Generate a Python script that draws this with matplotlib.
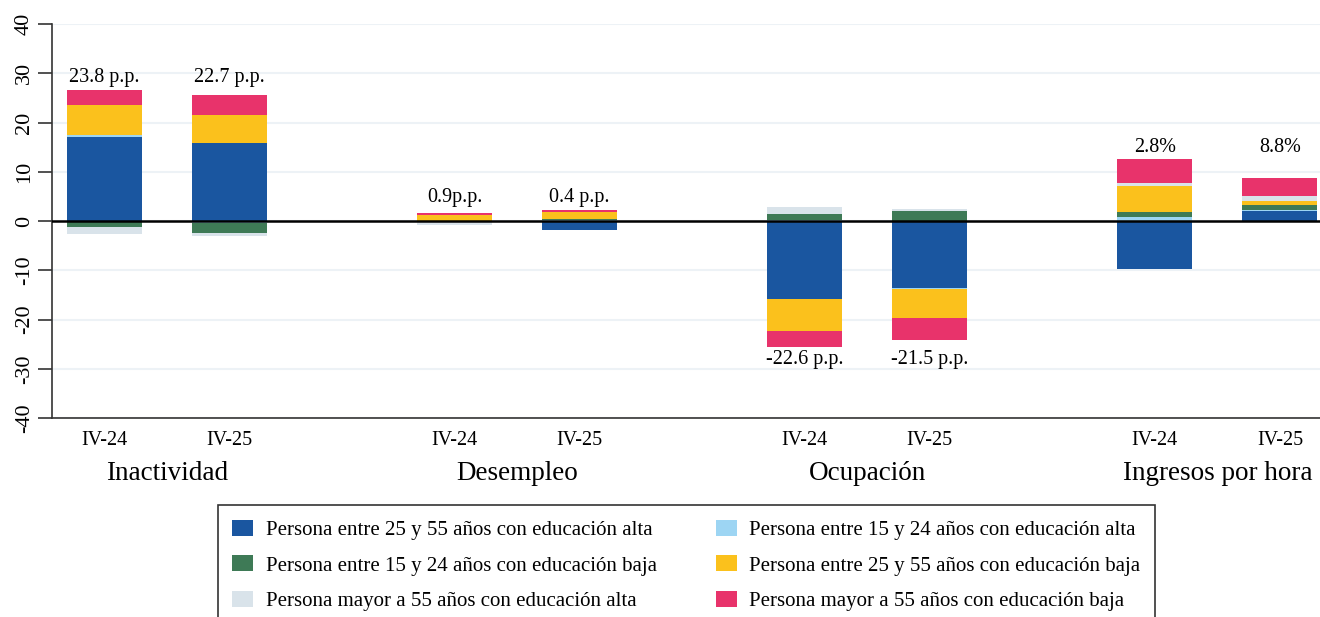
import numpy as np
import matplotlib.pyplot as plt

plt.rcParams['font.family'] = ['Liberation Serif', 'DejaVu Serif']
plt.rcParams['axes.unicode_minus'] = False

# categories: (group, period)
grupos = ['Inactividad', 'Desempleo', 'Ocupación', 'Ingresos por hora']
periodos = ['IV-24', 'IV-25']

series = [
    'Persona entre 25 y 55 años con educación alta',
    'Persona entre 15 y 24 años con educación alta',
    'Persona entre 15 y 24 años con educación baja',
    'Persona entre 25 y 55 años con educación baja',
    'Persona mayor a 55 años con educación alta',
    'Persona mayor a 55 años con educación baja',
]

# contributions per bar (8 bars: group x period)
alta_25_55 = [17.1, 15.8, 0.0, -1.9, -15.9, -13.5, -9.7, 2.0]
alta_15_24 = [0.3, -0.3, 0.0, 0.25, 0.2, -0.2, 0.85, 0.25]
baja_15_24 = [-1.2, -2.1, -0.2, 0.2, 1.2, 2.0, 1.0, 0.95]
baja_25_55 = [6.1, 5.7, 1.3, 1.4, -6.4, -6.0, 5.25, 0.8]
alta_55 = [-1.4, -0.6, -0.6, 0.0, 1.45, 0.4, 0.7, 1.1]
baja_55 = [3.2, 4.1, 0.4, 0.45, -3.2, -4.4, 4.7, 3.7]

totales = ['23.8 p.p.', '22.7 p.p.', '0.9p.p.', '0.4 p.p.',
           '-22.6 p.p.', '-21.5 p.p.', '2.8%', '8.8%']

colores = ['#1A56A0', '#9DD5F3', '#3E7A56', '#FBC11C', '#D9E3EA', '#E8336B']

datos = np.array([alta_25_55, alta_15_24, baja_15_24, baja_25_55, alta_55, baja_55])

x = np.array([0, 1, 2.8, 3.8, 5.6, 6.6, 8.4, 9.4])
ancho = 0.6

fig = plt.figure(figsize=(13.2, 6.17), dpi=100)
ax = fig.add_axes([0.0394, 0.3225, 0.9606, 0.6385])

pos_base = np.zeros(len(x))
neg_base = np.zeros(len(x))
handles = []
for i, fila in enumerate(datos):
    bottoms = np.where(fila >= 0, pos_base, neg_base)
    b = ax.bar(x, fila, ancho, bottom=bottoms, color=colores[i], label=series[i],
               zorder=3, linewidth=0)
    handles.append(b)
    pos_base = pos_base + np.where(fila >= 0, fila, 0)
    neg_base = neg_base + np.where(fila < 0, fila, 0)

# labels sit at the same height for both bars in a group
for j in range(len(x)):
    g = j // 2
    if g == 2:
        y = min(neg_base[2 * g], neg_base[2 * g + 1])
        ax.text(x[j], y - 0.6, totales[j], ha='center', va='top', fontsize=14.5)
    else:
        y = max(pos_base[2 * g], pos_base[2 * g + 1])
        ax.text(x[j], y + 0.5, totales[j], ha='center', va='bottom', fontsize=14.5)

ax.axhline(0, color='black', lw=1.8, zorder=4)
ax.set_ylim(-40, 40)
ax.set_xlim(-0.42, 9.72)
ax.set_yticks(np.arange(-40, 41, 10))
ax.yaxis.grid(True, color='#EDF2F6', lw=1.5, zorder=0)
ax.tick_params(axis='y', labelsize=16, length=10, width=1.2, color='#333333',
               labelrotation=90, pad=3)
for lab in ax.get_yticklabels():
    lab.set_va('center')
ax.spines['top'].set_visible(False)
ax.spines['right'].set_visible(False)
ax.spines['left'].set_color('#333333')
ax.spines['bottom'].set_color('#333333')
ax.spines['left'].set_linewidth(1.2)
ax.spines['bottom'].set_linewidth(1.2)

ax.set_xticks(x)
ax.set_xticklabels(periodos * 4, fontsize=14.5)
ax.tick_params(axis='x', length=0, pad=9)

centros = (x[0::2] + x[1::2]) / 2
for c, g in zip(centros, grupos):
    ax.text(c, -51.3, g, ha='center', va='center', fontsize=19.5)

orden = [0, 2, 4, 1, 3, 5]
leg = fig.legend([handles[k] for k in orden], [series[k] for k in orden],
                 ncol=2, loc='upper left', bbox_to_anchor=(0.165, 0.1815),
                 borderaxespad=0, fontsize=15, frameon=True, fancybox=False,
                 edgecolor='black', handlelength=1.0, handleheight=0.8,
                 handletextpad=0.6, columnspacing=2.85, labelspacing=0.75,
                 borderpad=0.7)
leg.get_frame().set_linewidth(1.2)

fig.savefig('out.png', dpi=100)
